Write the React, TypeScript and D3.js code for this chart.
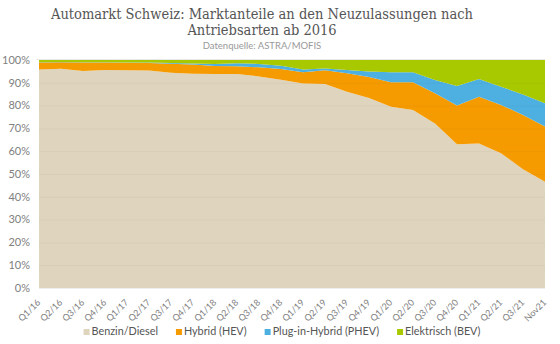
import React, { useEffect, useRef } from "react";
import * as d3 from "d3";

const categories = [
  "Q1/16", "Q2/16", "Q3/16", "Q4/16", "Q1/17", "Q2/17", "Q3/17", "Q4/17",
  "Q1/18", "Q2/18", "Q3/18", "Q4/18", "Q1/19", "Q2/19", "Q3/19", "Q4/19",
  "Q1/20", "Q2/20", "Q3/20", "Q4/20", "Q1/21", "Q2/21", "Q3/21", "Nov21",
];
const benzinDiesel = [95.8, 96.2, 95.2, 95.6, 95.5, 95.4, 94.4, 94.0, 93.9, 93.9, 92.8, 91.3, 89.7, 89.5, 86.1, 83.3, 79.5, 78.1, 72.2, 63.0, 63.4, 59.1, 52.1, 46.6];
const hybrid = [3.1, 2.8, 3.7, 3.3, 3.3, 3.3, 4.0, 4.0, 3.5, 3.4, 4.0, 4.7, 4.9, 6.0, 8.1, 9.2, 10.7, 12.1, 13.2, 17.0, 20.5, 21.2, 23.8, 24.2];
const plugIn = [0.1, 0.1, 0.1, 0.1, 0.1, 0.2, 0.3, 0.5, 0.8, 1.3, 1.5, 1.5, 1.2, 0.8, 1.4, 2.5, 4.4, 4.4, 5.8, 8.6, 7.8, 8.0, 9.0, 10.2];
const elektrisch = [1.0, 0.9, 1.0, 1.0, 1.1, 1.1, 1.3, 1.5, 1.8, 1.4, 1.7, 2.5, 4.2, 3.7, 4.4, 5.0, 5.4, 5.4, 8.8, 11.4, 8.3, 11.7, 15.1, 19.0];
const seriesNames = ["Benzin/Diesel", "Hybrid (HEV)", "Plug-in-Hybrid (PHEV)", "Elektrisch (BEV)"];
const seriesColors = ["#dfd4bd", "#f59b00", "#4eb0e0", "#a8c800"];
const yTicks = [0, 10, 20, 30, 40, 50, 60, 70, 80, 90, 100];

const W = 560;
const H = 344;
const M = { left: 39, right: 15, top: 60, bottom: 56 };

export default function App() {
  const ref = useRef<SVGSVGElement>(null);

  useEffect(() => {
    const svg = d3.select(ref.current);
    svg.selectAll("*").remove();

    const rows = categories.map((c, i) => ({
      cat: c,
      s0: benzinDiesel[i],
      s1: hybrid[i],
      s2: plugIn[i],
      s3: elektrisch[i],
    }));
    const keys = ["s0", "s1", "s2", "s3"];
    const stacked = d3.stack<any>().keys(keys)(rows);

    const x = d3.scalePoint<string>().domain(categories).range([M.left, W - M.right]);
    const y = d3.scaleLinear().domain([0, 100]).range([H - M.bottom, M.top]);

    const area = d3
      .area<any>()
      .x((d) => x(d.data.cat)!)
      .y0((d) => y(d[0]))
      .y1((d) => y(Math.min(100, d[1])))
      .curve(d3.curveLinear);

    svg
      .append("g")
      .selectAll("path")
      .data(stacked)
      .join("path")
      .attr("d", area as any)
      .attr("fill", (_d, i) => seriesColors[i]);

    // grid lines
    svg
      .append("g")
      .selectAll("line")
      .data(yTicks.filter((t) => t > 0 && t < 100))
      .join("line")
      .attr("x1", M.left)
      .attr("x2", W - M.right)
      .attr("y1", (d) => y(d) + 0.5)
      .attr("y2", (d) => y(d) + 0.5)
      .attr("stroke", "#000")
      .attr("stroke-opacity", 0.03);

    svg
      .append("line")
      .attr("x1", M.left - 3)
      .attr("x2", W - M.right)
      .attr("y1", y(100) - 0.5)
      .attr("y2", y(100) - 0.5)
      .attr("stroke", "#e8e8e8");
    svg
      .append("line")
      .attr("x1", M.left)
      .attr("x2", W - M.right)
      .attr("y1", y(0) + 0.5)
      .attr("y2", y(0) + 0.5)
      .attr("stroke", "#eeeeee");

    // y axis labels
    svg
      .append("g")
      .selectAll("text")
      .data(yTicks)
      .join("text")
      .attr("x", M.left - 9)
      .attr("y", (d) => y(d))
      .attr("dy", "0.35em")
      .attr("text-anchor", "end")
      .attr("font-family", "Lato, 'Open Sans', sans-serif")
      .attr("font-size", 11)
      .attr("fill", "#808080")
      .text((d) => d + "%");

    // x axis labels
    svg
      .append("g")
      .selectAll("text")
      .data(categories)
      .join("text")
      .attr("transform", (d) => `translate(${x(d)! + 2},${y(0) + 15}) rotate(-45)`)
      .attr("text-anchor", "end")
      .attr("font-family", "Lato, 'Open Sans', sans-serif")
      .attr("font-size", 9)
      .attr("fill", "#808080")
      .text((d) => d);

    // title
    const title = svg
      .append("text")
      .attr("text-anchor", "middle")
      .attr("font-family", "'DejaVu Serif', serif")
      .attr("font-stretch", "condensed")
      .attr("font-size", 14.5)
      .attr("fill", "#555");
    title.append("tspan").attr("x", 262).attr("y", 18.5).text("Automarkt Schweiz: Marktanteile an den Neuzulassungen nach");
    title.append("tspan").attr("x", 262).attr("y", 35).text("Antriebsarten ab 2016");

    svg
      .append("text")
      .attr("x", 262)
      .attr("y", 48.5)
      .attr("text-anchor", "middle")
      .attr("font-family", "Lato, 'Open Sans', sans-serif")
      .attr("font-size", 9.5)
      .attr("fill", "#999")
      .text("Datenquelle: ASTRA/MOFIS");

    // legend
    const lg = svg.append("g");
    const items = lg
      .selectAll("g")
      .data(seriesNames)
      .join("g");
    items
      .append("rect")
      .attr("width", 6)
      .attr("height", 6)
      .attr("y", -6)
      .attr("fill", (_d, i) => seriesColors[i]);
    const texts = items
      .append("text")
      .attr("x", 8)
      .attr("font-family", "Lato, 'Open Sans', sans-serif")
      .attr("font-size", 10.8)
      .attr("fill", "#555")
      .text((d) => d);
    let cx = 0;
    const widths: number[] = [];
    texts.each(function () {
      widths.push((this as SVGTextElement).getComputedTextLength());
    });
    const gap = 18;
    const total = widths.reduce((a, b) => a + b + 8, 0) + gap * (widths.length - 1);
    const start = 282 - total / 2;
    items.attr("transform", (_d, i) => {
      const t = `translate(${start + cx},${335})`;
      cx += 8 + widths[i] + gap;
      return t;
    });
  }, []);

  return (
    <svg
      ref={ref}
      width={W}
      height={H}
      style={{ position: "fixed", left: 0, top: 0, background: "#fff" }}
    />
  );
}
